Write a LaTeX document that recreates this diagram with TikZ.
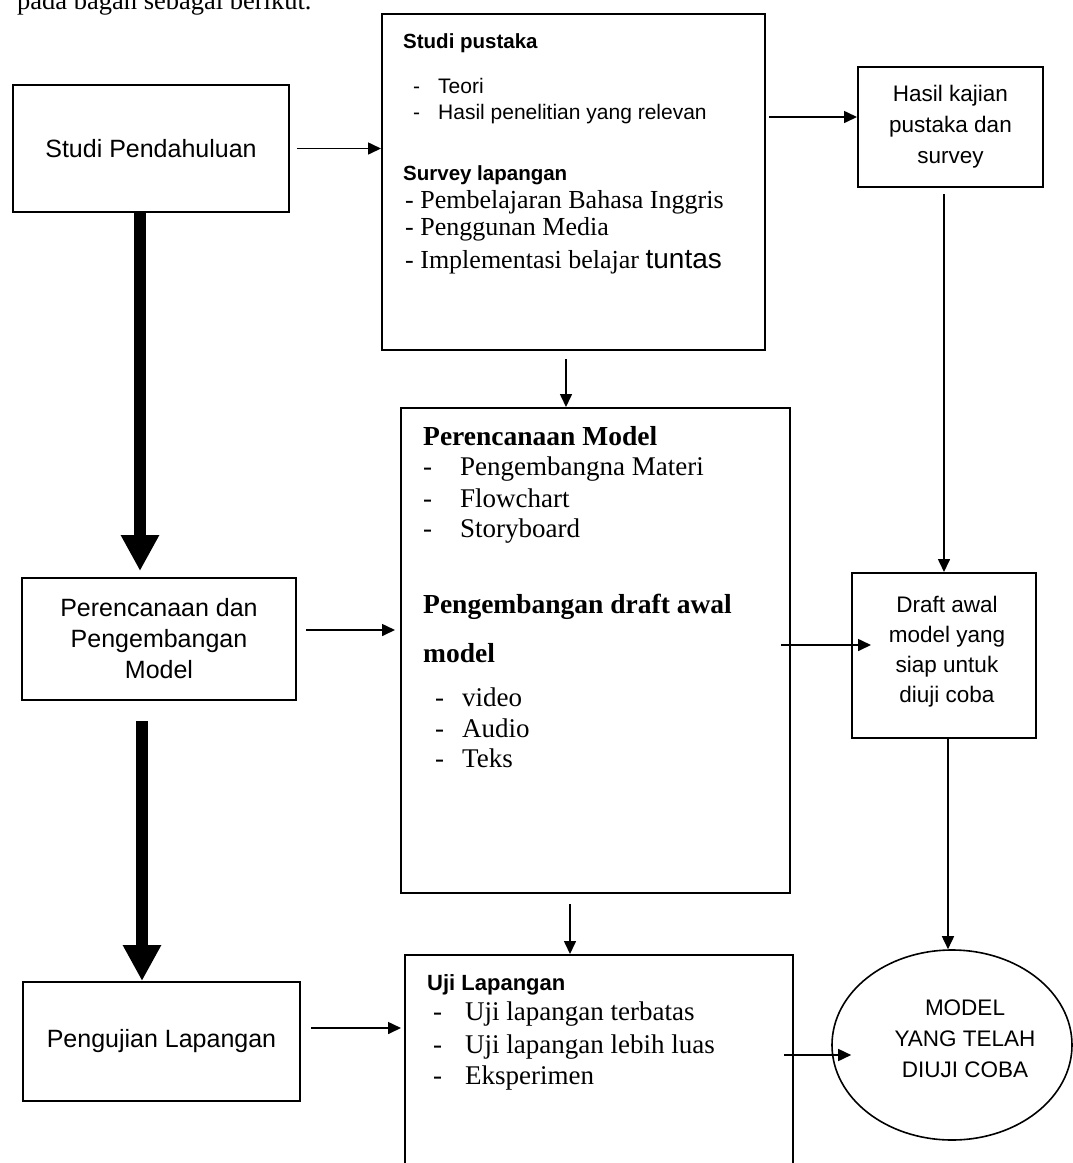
\documentclass[tikz,border=0pt]{standalone}
\usepackage{fontspec}
\setmainfont{Liberation Serif}
\setsansfont{Liberation Sans}
\usetikzlibrary{arrows.meta,shapes.geometric,calc}
\newcommand\fz[2]{\fontsize{#1pt}{#2pt}\selectfont}
\begin{document}
\begin{tikzpicture}[x=1pt,y=-1pt,
  box/.style={draw, line width=2pt, inner sep=0pt, rectangle},
  lbl/.style={anchor=base west, inner sep=0pt},
  sans/.style={lbl, font=\sffamily\fz{21}{24}},
  sansb/.style={lbl, font=\sffamily\bfseries\fz{20.5}{24}},
  ser/.style={lbl, font=\fz{27}{30}},
  serb/.style={lbl, font=\bfseries\fz{27.5}{30}},
  arr/.style={line width=1.6pt, -{Triangle[length=13pt,width=12pt]}},
  fat/.style={line width=12pt, -{Triangle[length=36pt,width=36pt]}}]
\useasboundingbox (0,0) rectangle (1073,1163);
\clip (0,0) rectangle (1073,1163);
\fill[white] (0,0) rectangle (1073,1163);

% cut-off caption at top
\node[lbl, font=\fz{26.5}{30}] (intro) at (17,9) {pada bagan sebagai berikut.};

% boxes
\node[box, minimum width=276pt, minimum height=127pt, font=\sffamily\fz{25}{30}] (sp) at (151,148.5) {Studi Pendahuluan};
\node[box, minimum width=383pt, minimum height=336pt] (spk) at (573.5,182) {};
\node[box, minimum width=185pt, minimum height=120pt, align=center, font=\sffamily\fz{22.5}{31}] (hk) at (950.5,127) {Hasil kajian\\pustaka dan\\survey};
\node[box, minimum width=389pt, minimum height=485pt] (pm) at (595.5,650.5) {};
\node[box, minimum width=274pt, minimum height=122pt, align=center, font=\sffamily\fz{25}{31}] (ppm) at (159,639) {Perencanaan dan\\Pengembangan\\Model};
\node[box, minimum width=184pt, minimum height=165pt] (da) at (944,655.5) {};
\node[font=\sffamily\fz{22.5}{30}, align=center, inner sep=0pt] (dat) at (947,652) {Draft awal\\model yang\\siap untuk\\diuji coba};
\node[box, minimum width=277pt, minimum height=119pt, font=\sffamily\fz{25}{30}] (pl) at (161.5,1041.5) {Pengujian Lapangan};
\node[box, minimum width=388pt, minimum height=225pt] (ul) at (599,1067.5) {};
\node[draw, line width=1.6pt, ellipse, minimum width=240pt, minimum height=190pt, inner sep=0pt] (el) at (952,1045) {};
\node[font=\sffamily\fz{22.5}{31}, align=center, inner sep=0pt] (elt) at (965,1039) {MODEL\\YANG TELAH\\DIUJI COBA};

% Studi pustaka texts
\node[sansb] (t1) at (403,48) {Studi pustaka};
\node[sans] (t2a) at (413,93) {-};
\node[sans] (t2) at (438,93) {Teori};
\node[sans] (t3a) at (413,119) {-};
\node[sans] (t3) at (438,119) {Hasil penelitian yang relevan};
\node[sansb] (t4) at (403,180) {Survey lapangan};
\node[lbl, font=\fz{26}{30}] (t5) at (405,208) {- Pembelajaran Bahasa Inggris};
\node[lbl, font=\fz{26}{30}] (t6) at (405,235) {- Penggunan Media};
\node[lbl, font=\fz{26}{30}] (t7) at (405,268) {- Implementasi belajar {\sffamily\fz{28}{30}tuntas}};

% Perencanaan Model texts
\node[serb] (p1) at (423,445) {Perencanaan Model};
\node[ser] (p2a) at (423,475) {-};
\node[ser] (p2) at (460,475) {Pengembangna Materi};
\node[ser] (p3a) at (423,507) {-};
\node[ser] (p3) at (460,507) {Flowchart};
\node[ser] (p4a) at (423,537) {-};
\node[ser] (p4) at (460,537) {Storyboard};
\node[serb] (p5) at (423,613) {Pengembangan draft awal};
\node[serb] (p6) at (423,662) {model};
\node[ser] (p7a) at (435,706) {-};
\node[ser] (p7) at (462,706) {video};
\node[ser] (p8a) at (435,737) {-};
\node[ser] (p8) at (462,737) {Audio};
\node[ser] (p9a) at (435,767) {-};
\node[ser] (p9) at (462,767) {Teks};

% Uji Lapangan texts
\node[lbl, font=\sffamily\bfseries\fz{22}{24}] (u1) at (427,990) {Uji Lapangan};
\node[ser] (u2a) at (433,1020) {-};
\node[ser] (u2) at (465,1020) {Uji lapangan terbatas};
\node[ser] (u3a) at (433,1053) {-};
\node[ser] (u3) at (465,1053) {Uji lapangan lebih luas};
\node[ser] (u4a) at (433,1084) {-};
\node[ser] (u4) at (465,1084) {Eksperimen};

% thick arrows
\coordinate (e1) at ([xshift=-11pt]sp.south);
\coordinate (e2) at (e1 |- ppm.north);
\draw[fat] (e1) -- ([yshift=6pt]e2);
\coordinate (f1) at ([shift={(-17pt,-20pt)}]ppm.south);
\coordinate (f2) at (f1 |- pl.north);
\draw[fat] (f1) -- (f2);

% thin arrows
\coordinate (g1) at ([xshift=7pt]sp.east);
\coordinate (g2) at (g1 -| spk.west);
\draw[arr] (g1) -- (g2);
\coordinate (g3) at ([yshift=10pt]hk.west);
\coordinate (g4) at (g3 -| spk.east);
\draw[arr] ([xshift=3pt]g4) -- (g3);
\coordinate (g5) at (hk.south -| da.north);
\draw[arr] ([yshift=-6pt]g5) -- (da.north);
\coordinate (g6) at ([shift={(-7.5pt,-8pt)}]spk.south);
\coordinate (g7) at (g6 |- pm.north);
\draw[arr] (g6) -- (g7);
\coordinate (g8) at ([shift={(-25.5pt,-10pt)}]pm.south);
\coordinate (g9) at (g8 |- ul.north);
\draw[arr] (g8) -- (g9);
\coordinate (g10) at ([xshift=4pt]da.south);
\coordinate (g11) at (g10 |- el.north);
\draw[arr] (g10) -- (g11);
\coordinate (g12) at ([shift={(9pt,9pt)}]ppm.east);
\coordinate (g13) at (g12 -| pm.west);
\draw[arr] (g12) -- ([xshift=-5pt]g13);
\coordinate (g14) at ([yshift=10.5pt]da.west);
\coordinate (g15) at (g14 -| pm.east);
\draw[arr] ([xshift=-10pt]g15) -- ([xshift=20pt]g14);
\coordinate (g16) at ([shift={(10pt,13.5pt)}]pl.east);
\coordinate (g17) at (g16 -| ul.west);
\draw[arr] (g16) -- ([xshift=-3pt]g17);
\coordinate (g18) at ([yshift=-10pt]el.west);
\coordinate (g19) at (g18 -| ul.east);
\draw[arr] ([xshift=-10pt]g19) -- ([xshift=20pt]g18);
\end{tikzpicture}
\end{document}
